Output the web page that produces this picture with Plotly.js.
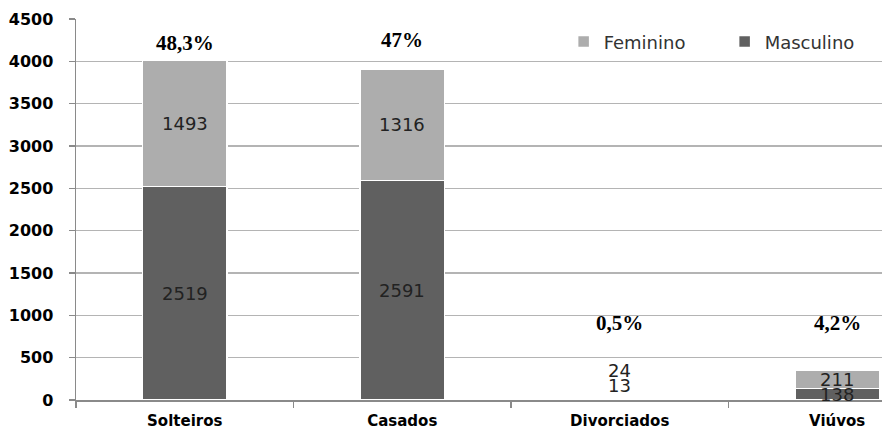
<!DOCTYPE html>
<html>
<head>
<meta charset="utf-8">
<script src="https://cdn.plot.ly/plotly-3.0.1.min.js"></script>
<style>html,body{margin:0;padding:0;background:#fff;}#chart{width:882px;height:437px;}</style>
</head>
<body>
<div id="chart"></div>
<script>
const categories = ["Solteiros", "Casados", "Divorciados", "Viúvos"];
const masculino = [2519, 2591, 13, 138];
const feminino = [1493, 1316, 24, 211];
const percentLabels = ["48,3%", "47%", "0,5%", "4,2%"];
const yTicks = [0, 500, 1000, 1500, 2000, 2500, 3000, 3500, 4000, 4500];

const colMasc = "#606060";
const colFem = "#adadad";
const labelFont = {family: "DejaVu Sans", size: 18, color: "#222"};

const traces = [
  {type: "bar", name: "Masculino", x: categories, y: masculino, width: 0.39,
   marker: {color: colMasc, line: {color: "#ffffff", width: 1.5}}, hoverinfo: "skip"},
  {type: "bar", name: "Feminino", x: categories, y: feminino, width: 0.39,
   marker: {color: colFem, line: {color: "#ffffff", width: 1.5}}, hoverinfo: "skip"}
];

const annotations = [];
// shift small-bar labels upward where they cannot fit
const smallShift = (i, which) => (masculino[i] + feminino[i] < 100 ? (which === 0 ? 14 : 27) : 0);
categories.forEach((c, i) => {
  annotations.push({x: c, y: masculino[i] / 2, text: String(masculino[i]), showarrow: false,
    font: labelFont, yshift: smallShift(i, 0)});
  annotations.push({x: c, y: masculino[i] + feminino[i] / 2, text: String(feminino[i]), showarrow: false,
    font: labelFont, yshift: smallShift(i, 1)});
});
const pctY = [4215, 4250, 910, 910];
categories.forEach((c, i) => {
  annotations.push({x: c, y: pctY[i], text: "<b>" + percentLabels[i] + "</b>", showarrow: false,
    font: {family: "Liberation Serif", size: 21, color: "#000"}});
});

const layout = {
  width: 882, height: 437,
  margin: {l: 76, r: 0, t: 19, b: 37, autoexpand: false},
  paper_bgcolor: "#fff", plot_bgcolor: "#fff",
  barmode: "stack",
  showlegend: true,
  legend: {orientation: "h", x: 0.605, y: 0.94, xanchor: "left", yanchor: "middle",
    traceorder: "reversed", font: {family: "DejaVu Sans", size: 18, color: "#333"},
    itemwidth: 30, entrywidth: 116, entrywidthmode: "pixels", bgcolor: "rgba(0,0,0,0)"},
  xaxis: {type: "category", range: [-0.5, 3.206], showgrid: false, automargin: false,
    showline: true, linecolor: "#8a8a8a", linewidth: 1.5,
    ticks: "outside", tickson: "boundaries", ticklen: 6, tickcolor: "#8a8a8a", tickwidth: 1.5,
    tickfont: {family: "DejaVu Sans", size: 15, color: "#000", weight: "bold"},
    ticklabelstandoff: 6, fixedrange: true},
  yaxis: {range: [0, 4500], tickvals: yTicks, ticktext: yTicks.map(String), automargin: false,
    showgrid: true, gridcolor: "#b4b4b4", gridwidth: 1.5, zeroline: false,
    showline: true, linecolor: "#8a8a8a", linewidth: 1.5,
    ticks: "outside", ticklen: 6, tickcolor: "#8a8a8a", tickwidth: 1.5,
    tickfont: {family: "DejaVu Sans", size: 16, color: "#000", weight: "bold"},
    ticklabelstandoff: 12, fixedrange: true},
  annotations: annotations,
  bargap: 0.61
};

Plotly.newPlot("chart", traces, layout, {displayModeBar: false, staticPlot: true});
</script>
</body>
</html>
